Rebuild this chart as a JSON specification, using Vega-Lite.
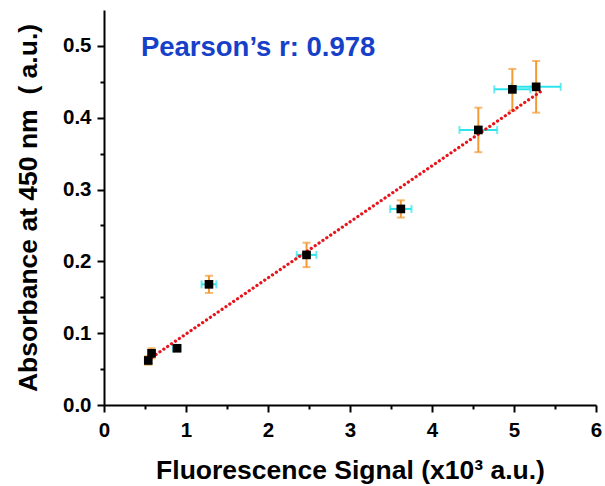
{
  "$schema": "https://vega.github.io/schema/vega-lite/v6.json",
  "autosize": "none",
  "width": 492,
  "height": 395,
  "padding": {"left": 104, "top": 10, "right": 9, "bottom": 81},
  "background": "white",
  "config": {
    "view": {"stroke": null},
    "font": "Liberation Sans",
    "axis": {
      "grid": false,
      "domainColor": "black",
      "domainWidth": 2,
      "tickColor": "black",
      "tickWidth": 2,
      "labelFont": "Liberation Sans",
      "labelFontWeight": "bold",
      "labelFontSize": 20.5,
      "labelColor": "black",
      "titleFont": "Liberation Sans",
      "titleFontWeight": "bold",
      "titleFontSize": 26.5,
      "titleColor": "black"
    }
  },
  "datasets": {
    "pts": [
      {"x": 0.54, "y": 0.062, "xlo": 0.51, "xhi": 0.57, "ylo": 0.056, "yhi": 0.068},
      {"x": 0.58, "y": 0.072, "xlo": 0.55, "xhi": 0.61, "ylo": 0.065, "yhi": 0.079},
      {"x": 0.89, "y": 0.079, "xlo": 0.84, "xhi": 0.94, "ylo": 0.075, "yhi": 0.083},
      {"x": 1.28, "y": 0.168, "xlo": 1.19, "xhi": 1.37, "ylo": 0.156, "yhi": 0.180},
      {"x": 2.47, "y": 0.209, "xlo": 2.35, "xhi": 2.59, "ylo": 0.192, "yhi": 0.226},
      {"x": 3.62, "y": 0.273, "xlo": 3.49, "xhi": 3.75, "ylo": 0.261, "yhi": 0.285},
      {"x": 4.565, "y": 0.383, "xlo": 4.335, "xhi": 4.795, "ylo": 0.352, "yhi": 0.414},
      {"x": 4.98, "y": 0.4395, "xlo": 4.76, "xhi": 5.2, "ylo": 0.41, "yhi": 0.468},
      {"x": 5.27, "y": 0.443, "xlo": 4.97, "xhi": 5.57, "ylo": 0.407, "yhi": 0.479}
    ],
    "fit": [
      {"x": 0.54, "y": 0.063},
      {"x": 5.32, "y": 0.436}
    ],
    "note": [
      {"x": 0.45, "y": 0.486, "label": "Pearson’s r: 0.978"}
    ]
  },
  "encoding": {
    "x": {
      "field": "x", "type": "quantitative",
      "scale": {"domain": [0, 6], "nice": false, "zero": false},
      "axis": {
        "title": "Fluorescence Signal (x10³ a.u.)",
        "values": [0, 0.5, 1, 1.5, 2, 2.5, 3, 3.5, 4, 4.5, 5, 5.5, 6],
        "labelExpr": "round(datum.value*2) % 2 === 1 ? '' : format(datum.value, 'd')",
        "tickSize": {"condition": {"test": "round(datum.value*2) % 2 === 1", "value": 4}, "value": 7},
        "labelPadding": 8,
        "titlePadding": 17,
        "labelFlush": false
      }
    },
    "y": {
      "field": "y", "type": "quantitative",
      "scale": {"domain": [0, 0.55], "nice": false},
      "axis": {
        "title": "Absorbance at 450 nm\u00a0 ( a.u.)",
        "values": [0, 0.05, 0.1, 0.15, 0.2, 0.25, 0.3, 0.35, 0.4, 0.45, 0.5],
        "labelExpr": "round(datum.value*20) % 2 === 1 ? '' : format(datum.value, '.1f')",
        "tickSize": {"condition": {"test": "round(datum.value*20) % 2 === 1", "value": 4}, "value": 7},
        "labelPadding": 6,
        "titlePadding": 20,
        "labelFlush": false
      }
    }
  },
  "layer": [
    {
      "data": {"name": "pts"},
      "mark": {"type": "rule", "color": "#2ee4ec", "strokeWidth": 2},
      "encoding": {"x": {"field": "xlo", "type": "quantitative"}, "x2": {"field": "xhi"}}
    },
    {
      "data": {"name": "pts"},
      "mark": {"type": "tick", "orient": "vertical", "color": "#2ee4ec", "size": 8, "thickness": 2},
      "encoding": {"x": {"field": "xlo", "type": "quantitative"}}
    },
    {
      "data": {"name": "pts"},
      "mark": {"type": "tick", "orient": "vertical", "color": "#2ee4ec", "size": 8, "thickness": 2},
      "encoding": {"x": {"field": "xhi", "type": "quantitative"}}
    },
    {
      "data": {"name": "pts"},
      "mark": {"type": "rule", "color": "#f39a34", "strokeWidth": 2},
      "encoding": {"y": {"field": "ylo", "type": "quantitative"}, "y2": {"field": "yhi"}}
    },
    {
      "data": {"name": "pts"},
      "mark": {"type": "tick", "orient": "horizontal", "color": "#f39a34", "size": 8, "thickness": 2},
      "encoding": {"y": {"field": "ylo", "type": "quantitative"}}
    },
    {
      "data": {"name": "pts"},
      "mark": {"type": "tick", "orient": "horizontal", "color": "#f39a34", "size": 8, "thickness": 2},
      "encoding": {"y": {"field": "yhi", "type": "quantitative"}}
    },
    {
      "data": {"name": "fit"},
      "mark": {"type": "line", "color": "#e8141c", "strokeWidth": 3.2, "strokeDash": [0.1, 4.6], "strokeCap": "round"},
      "encoding": {}
    },
    {
      "data": {"name": "pts"},
      "mark": {"type": "point", "shape": "square", "filled": true, "color": "black", "size": 75, "opacity": 1},
      "encoding": {}
    },
    {
      "data": {"name": "note"},
      "mark": {"type": "text", "align": "left", "baseline": "alphabetic", "font": "Liberation Sans", "fontWeight": "bold", "fontSize": 27.5, "color": "#1740c8"},
      "encoding": {"text": {"field": "label"}}
    }
  ]
}
